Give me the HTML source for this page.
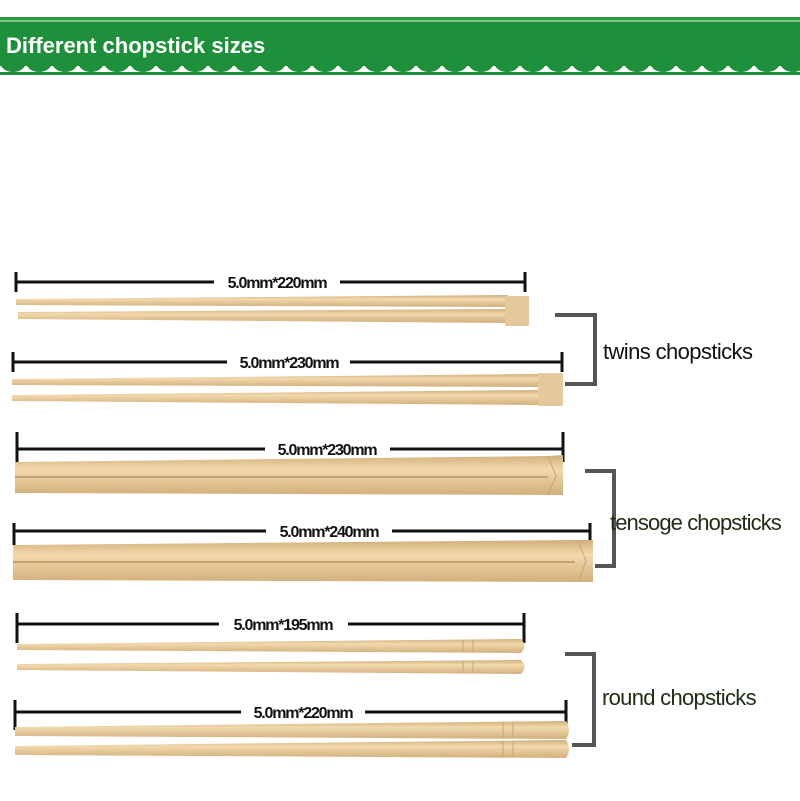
<!DOCTYPE html>
<html><head><meta charset="utf-8"><style>
html,body{margin:0;padding:0;background:#fff;}
svg{display:block}
text{font-family:"Liberation Sans",sans-serif;}
</style></head><body>
<svg width="800" height="801" viewBox="0 0 800 801" xmlns="http://www.w3.org/2000/svg">
<defs>
<linearGradient id="w" x1="0" y1="0" x2="0" y2="1">
<stop offset="0" stop-color="#d2ae7a"/><stop offset="0.35" stop-color="#f1d9ad"/><stop offset="1" stop-color="#d3af7c"/>
</linearGradient>
<pattern id="sc" x="0" y="0" width="26" height="12" patternUnits="userSpaceOnUse">
<path d="M0 0 H26 V2 A13 10 0 0 1 0 2 Z" fill="#1e8f3a"/>
</pattern>
</defs>
<rect width="800" height="801" fill="#fff"/>
<rect x="0" y="17" width="800" height="3" fill="#2a9a40"/>
<rect x="0" y="20" width="800" height="2" fill="#7fc78c"/>
<rect x="0" y="22" width="800" height="44" fill="#1e8f3a"/>
<rect x="0" y="66" width="800" height="9" fill="url(#sc)"/>
<text x="6" y="53" font-size="22" font-weight="bold" fill="#fff">Different chopstick sizes</text>

<g stroke="#111" stroke-width="3" fill="none">
<path d="M16 272V292M16 282H214M340 282H525M525 272V292"/>
<path d="M13 352V372M13 362H227M350 362H562M562 352V372"/>
<path d="M17 432V462M17 449H265M390 449H563M563 432V462"/>
<path d="M14 523V545M14 531H266M392 531H590M590 523V545"/>
<path d="M17 613V643M17 624H219M348 624H524M524 613V643"/>
<path d="M15 700V730M15 712H241M365 712H566M566 700V730"/>
</g>
<g font-size="16" font-weight="bold" fill="#111" text-anchor="middle" letter-spacing="-1.2">
<text x="277" y="288">5.0mm*220mm</text>
<text x="289" y="368">5.0mm*230mm</text>
<text x="327" y="455">5.0mm*230mm</text>
<text x="329" y="537">5.0mm*240mm</text>
<text x="283" y="630">5.0mm*195mm</text>
<text x="303" y="718">5.0mm*220mm</text>
</g>

<path d="M16 299 L508 295 L508 307 L16 305 Z" fill="url(#w)"/>
<path d="M18 312 L508 309 L508 323 L18 319 Z" fill="url(#w)"/>
<rect x="505" y="296" width="24" height="30" fill="#e6c99a"/>
<path d="M12 379 L540 374 L540 387 L12 385 Z" fill="url(#w)"/>
<path d="M12 395 L540 390 L540 405 L12 401 Z" fill="url(#w)"/>
<rect x="538" y="373" width="25" height="33" fill="#e6c99a"/>
<path d="M15 462 L548 456 L563 455 L563 495 L15 493 Z" fill="url(#w)"/>
<path d="M15 477 L548 477" stroke="#b8925e" stroke-width="1.5"/>
<path d="M548 456 L556 476 L548 495" stroke="#c9a56f" fill="none"/>
<path d="M13 545 L575 540 L593 540 L593 582 L13 580 Z" fill="url(#w)"/>
<path d="M13 562 L575 562" stroke="#b8925e" stroke-width="1.5"/>
<path d="M578 541 L586 561 L578 582" stroke="#c9a56f" fill="none"/>
<path d="M17 644 L521 639 Q528 646 521 653 L17 650 Z" fill="url(#w)"/>
<path d="M17 664 L521 660 Q528 667 521 674 L17 670 Z" fill="url(#w)"/>
<path d="M15 727 L566 721 Q572 730 566 739 L15 736 Z" fill="url(#w)"/>
<path d="M15 746 L566 740 Q572 749 566 758 L15 755 Z" fill="url(#w)"/>
<g stroke="#c7a577" stroke-width="1">
<path d="M463 640V652M473 640V652M463 661V673M473 661V673M503 722V738M513 722V738M503 741V757M513 741V757"/>
</g>

<g stroke="#555" stroke-width="4" fill="none">
<path d="M555 315H595V384H565"/>
<path d="M585 471H614V566H595"/>
<path d="M565 654H594V745H572"/>
</g>
<g font-size="22" fill="#111">
<text x="603" y="359" letter-spacing="-0.6">twins chopsticks</text>
<text x="610" y="530" letter-spacing="-0.9" fill="#1d2d14">tensoge chopsticks</text>
<text x="602" y="705" letter-spacing="-0.7" fill="#1d2d14">round chopsticks</text>
</g>
</svg>
</body></html>
